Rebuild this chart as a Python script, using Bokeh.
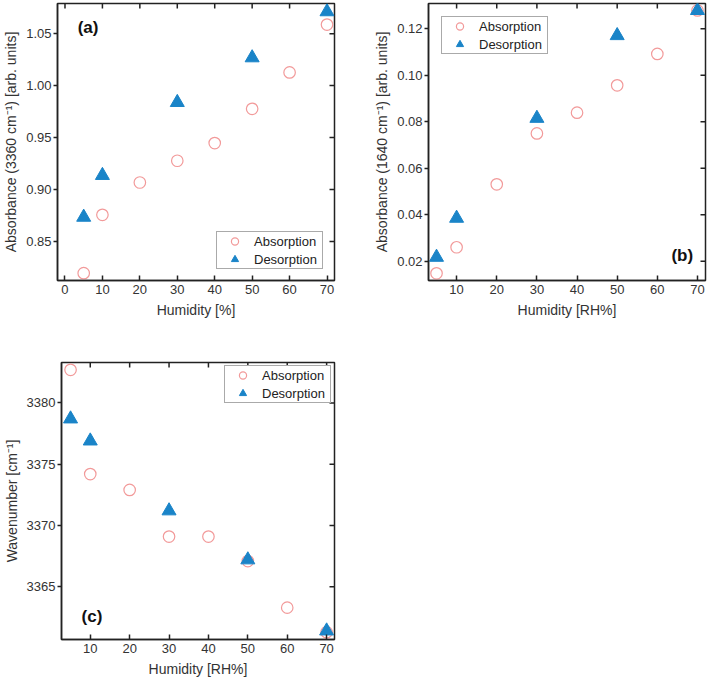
import math
from bokeh.plotting import figure
from bokeh.models import FixedTicker, PrintfTickFormatter, Range1d, Label
from bokeh.layouts import row, column
from bokeh.embed import file_html
from bokeh.resources import INLINE

# ---- data ----
hum_abs = [5, 10, 20, 30, 40, 50, 60, 70]
hum_des = [5, 10, 30, 50, 70]

a_abs = [0.8195, 0.8757, 0.9068, 0.9277, 0.9447, 0.9777, 1.0127, 1.0587]
a_des = [0.8734, 0.9136, 0.9838, 1.0268, 1.0711]

b_abs = [0.0148, 0.0260, 0.0531, 0.0750, 0.0839, 0.0957, 0.1092, 0.1279]
b_des = [0.0217, 0.0385, 0.0815, 0.1171, 0.1279]

c_abs = [3382.7, 3374.2, 3372.9, 3369.1, 3369.1, 3367.1, 3363.3, 3361.3]
c_des = [3378.7, 3376.9, 3371.2, 3367.2, 3361.4]

xticks_a = [0, 10, 20, 30, 40, 50, 60, 70]
xticks_bc = [10, 20, 30, 40, 50, 60, 70]
yticks_a = [0.85, 0.90, 0.95, 1.00, 1.05]
yticks_b = [0.02, 0.04, 0.06, 0.08, 0.10, 0.12]
yticks_c = [3365, 3370, 3375, 3380]

FONT = "Liberation Sans"
ABS_COLOR = "#f29a9a"
DES_COLOR = "#1a84c8"
AX_COLOR = "#222222"


def panel(xs_a, ya, xs_d, yd, xr, yr, xt, yt, yfmt, xlabel, ylabel,
          tag, tag_xy, leg_loc, leg_margin, width, height, borders):
    bl, br, bt, bb = borders
    p = figure(width=width, height=height, output_backend="svg",
               toolbar_location=None, x_range=Range1d(*xr), y_range=Range1d(*yr),
               min_border_left=bl, min_border_right=br,
               min_border_top=bt, min_border_bottom=bb,
               background_fill_color="white", border_fill_color="white")
    p.grid.visible = False
    p.outline_line_color = AX_COLOR
    p.outline_line_width = 1.5

    # inward mirror ticks on top and right edges (clipped to the frame)
    p.scatter(xt, [yr[1]] * len(xt), marker="dash", angle=math.pi / 2, size=10,
              line_color=AX_COLOR, line_width=1.5)
    p.scatter([xr[1]] * len(yt), yt, marker="dash", angle=0, size=10,
              line_color=AX_COLOR, line_width=1.5)

    p.scatter(xs_a, ya, marker="circle", size=11.5, fill_color=None,
              line_color=ABS_COLOR, line_width=1.2, legend_label="Absorption")
    p.scatter(xs_d, yd, marker="triangle", size=14, fill_color=DES_COLOR,
              line_color=DES_COLOR, legend_label="Desorption")

    xa = p.xaxis[0]
    xa.ticker = FixedTicker(ticks=xt)
    xa.major_tick_in = 5
    xa.major_tick_out = 0
    xa.minor_tick_line_color = None
    xa.axis_line_width = 1.5
    xa.axis_line_color = AX_COLOR
    xa.major_tick_line_width = 1.5
    xa.major_tick_line_color = AX_COLOR
    xa.major_label_text_font = FONT
    xa.major_label_text_font_size = "13px"
    xa.major_label_text_color = "#333333"
    xa.major_label_standoff = 4
    xa.axis_label = xlabel
    xa.axis_label_text_font = FONT
    xa.axis_label_text_font_size = "14px"
    xa.axis_label_text_font_style = "normal"
    xa.axis_label_text_color = "#333333"
    xa.axis_label_standoff = 5

    ya_ = p.yaxis[0]
    ya_.ticker = FixedTicker(ticks=yt)
    ya_.formatter = PrintfTickFormatter(format=yfmt)
    ya_.major_tick_in = 0
    ya_.major_tick_out = 4
    ya_.minor_tick_line_color = None
    ya_.axis_line_width = 1.5
    ya_.axis_line_color = AX_COLOR
    ya_.major_tick_line_width = 1.5
    ya_.major_tick_line_color = AX_COLOR
    ya_.major_label_text_font = FONT
    ya_.major_label_text_font_size = "13px"
    ya_.major_label_text_color = "#333333"
    ya_.major_label_standoff = 2
    ya_.axis_label = ylabel
    ya_.axis_label_text_font = FONT
    ya_.axis_label_text_font_size = "14px"
    ya_.axis_label_text_font_style = "normal"
    ya_.axis_label_text_color = "#333333"
    ya_.axis_label_standoff = 4

    lg = p.legend[0]
    lg.location = leg_loc
    lg.margin = leg_margin
    lg.padding = 0
    lg.spacing = 0
    lg.glyph_width = 35
    lg.glyph_height = 18
    lg.label_height = 18
    lg.label_width = 68
    lg.label_standoff = 2
    lg.label_text_font = FONT
    lg.label_text_font_size = "13px"
    lg.label_text_color = "#222222"
    lg.border_line_color = "#555555"
    lg.border_line_width = 1
    lg.background_fill_alpha = 1

    p.add_layout(Label(x=tag_xy[0], y=tag_xy[1], text=tag, text_font=FONT,
                       text_font_style="bold", text_font_size="17px",
                       text_color="#111111", text_baseline="middle",
                       text_align="left"))
    return p


pa = panel(hum_abs, a_abs, hum_des, a_des, (-2, 72), (0.8125, 1.079),
           xticks_a, yticks_a, "%.2f", "Humidity [%]",
           "Absorbance (3360 cm⁻¹) [arb. units]", "(a)", (3.4, 1.056),
           "bottom_right", 11, 344, 325, (57, 10, 3, 45))

pb = panel(hum_abs, b_abs, hum_des, b_des, (3, 72), (0.0117, 0.1309),
           xticks_bc, yticks_b, "%.2f", "Humidity [RH%]",
           "Absorbance (1640 cm⁻¹) [arb. units]", "(b)", (63.5, 0.0225),
           "top_left", 13, 363, 325, (84, 2, 3, 45))

pc = panel(hum_abs, c_abs, hum_des, c_des, (2.7, 72), (3360.7, 3383.3),
           xticks_bc, yticks_c, "%d", "Humidity [RH%]",
           "Wavenumber [cm⁻¹]", "(c)", (7.8, 3362.6),
           "top_right", 3, 344, 354, (57, 10, 37, 40))

layout = column(row(pa, pb), pc)
open("out.html", "w").write(file_html(layout, INLINE))
